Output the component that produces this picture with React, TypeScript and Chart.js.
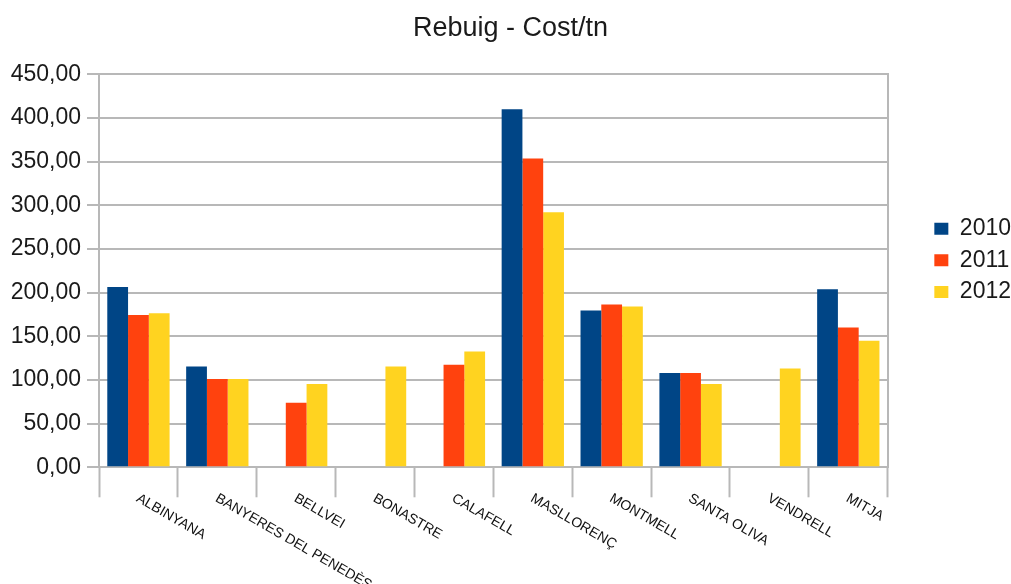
import React, { useEffect, useRef } from "react";
import { Chart, registerables } from "chart.js";

Chart.register(...registerables);

// Municipalities (last column is the average)
const categories = [
  "ALBINYANA",
  "BANYERES DEL PENEDÈS",
  "BELLVEI",
  "BONASTRE",
  "CALAFELL",
  "MASLLORENÇ",
  "MONTMELL",
  "SANTA OLIVA",
  "VENDRELL",
  "MITJA",
];

const years = ["2010", "2011", "2012"];

// Cost per tonne of waste, per year
const cost2010 = [206.5, 115.5, null, null, null, 410, 179.5, 108, null, 204];
const cost2011 = [174.5, 101, 74, null, 117.5, 353.5, 186.5, 108, null, 160];
const cost2012 = [176.5, 101, 95.5, 115.5, 132.5, 292, 184, 95.5, 113, 145];

const yTicks = { min: 0, max: 450, step: 50 };

const seriesColors = ["#004586", "#ff420e", "#ffd320"];

const FONT = '"Liberation Sans", Arial, sans-serif';
const GRID = "#b8b8b8";
const TEXT = "#1a1a1a";

// Slanted category names, hanging down-right from each category centre
const slantedLabels = {
  id: "slantedLabels",
  afterDraw(chart: any) {
    const xs = chart.scales.x;
    const ctx = chart.ctx;
    ctx.save();
    ctx.font = `14px ${FONT}`;
    ctx.fillStyle = "#111";
    ctx.textAlign = "left";
    ctx.textBaseline = "top";
    categories.forEach((label, i) => {
      const x = xs.getPixelForValue(i) + 2.5;
      const y = xs.top + 24;
      ctx.save();
      ctx.translate(x, y);
      ctx.rotate(Math.PI / 6);
      ctx.fillText(label, 0, 0);
      ctx.restore();
    });
    ctx.restore();
  },
};

export default function App() {
  const canvasRef = useRef<HTMLCanvasElement | null>(null);

  useEffect(() => {
    document.body.style.margin = "0";
    const canvas = canvasRef.current;
    if (!canvas) return;

    const seriesValues = [cost2010, cost2011, cost2012];

    const chart = new Chart(canvas, {
      type: "bar",
      data: {
        labels: categories,
        datasets: years.map((year, i) => ({
          label: year,
          data: seriesValues[i],
          backgroundColor: seriesColors[i],
          borderWidth: 0,
          categoryPercentage: 0.79,
          barPercentage: 1.0,
        })),
      },
      options: {
        responsive: false,
        animation: false,
        devicePixelRatio: 1,
        layout: { padding: { top: 0, left: 0, right: -10, bottom: 63.4 } },
        plugins: {
          title: {
            display: true,
            text: "Rebuig - Cost/tn",
            color: TEXT,
            font: { family: FONT, size: 27, weight: "normal" },
            padding: { top: 12.1, bottom: 29.8 },
          },
          legend: {
            position: "right",
            align: "center",
            labels: {
              color: TEXT,
              font: { family: FONT, size: 23 },
              boxWidth: 14,
              boxHeight: 12,
              padding: 8.6,
            },
          },
          tooltip: { enabled: false },
        },
        scales: {
          x: {
            type: "category",
            offset: true,
            grid: {
              offset: true,
              drawOnChartArea: false,
              drawTicks: true,
              tickLength: 30,
              tickColor: GRID,
              tickWidth: 2,
            },
            border: { display: true, color: GRID, width: 2 },
            ticks: { display: false },
            afterFit: (scale: any) => {
              scale.height = 53.3;
            },
          },
          y: {
            min: yTicks.min,
            max: yTicks.max,
            grid: {
              color: GRID,
              lineWidth: 2,
              tickLength: 12,
              tickColor: GRID,
            },
            border: { display: true, color: GRID, width: 2 },
            ticks: {
              stepSize: yTicks.step,
              padding: 6,
              color: TEXT,
              font: { family: FONT, size: 23 },
              callback: (v: any) => Number(v).toFixed(2).replace(".", ","),
            },
            afterFit: (scale: any) => {
              scale.width = 99;
            },
          },
          frame: {
            type: "linear",
            position: "right",
            grid: { drawOnChartArea: false, drawTicks: false },
            border: { display: true, color: GRID, width: 2 },
            ticks: { display: false },
            afterFit: (scale: any) => {
              scale.width = 38;
            },
          },
        },
      },
      plugins: [slantedLabels],
    } as any);

    return () => chart.destroy();
  }, []);

  return (
    <div style={{ width: 1011, height: 584 }}>
      <canvas ref={canvasRef} width={1011} height={584} />
    </div>
  );
}
